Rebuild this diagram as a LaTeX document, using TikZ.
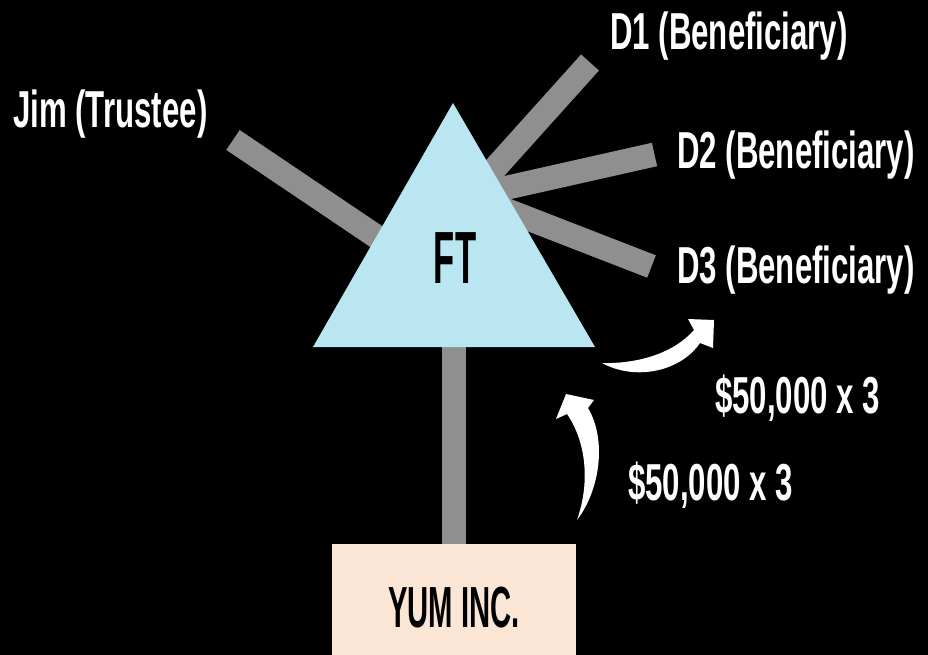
\documentclass[tikz,border=0pt]{standalone}
\usepackage{fontspec}
\newfontfamily\condfont[FakeStretch=0.6]{Liberation Sans}
\definecolor{barcol}{HTML}{8F8F8F}
\definecolor{trifill}{HTML}{B9E6F1}
\definecolor{boxfill}{HTML}{FBE5D5}
\begin{document}
\begin{tikzpicture}[x=1pt,y=-1pt,
  bar/.style={draw=barcol, line width=24pt},
  lab/.style={anchor=base west, inner sep=0pt, text=white, font=\condfont\bfseries\fontsize{52}{60}\selectfont},
  flow/.style={fill=white, draw=none}]
\fill[black] (0,0) rectangle (928,655);
\useasboundingbox (0,0) rectangle (928,655);
\clip (0,0) rectangle (928,655);

% hub and bar end points
\coordinate (hub) at (470,196);
\coordinate (jimEnd) at (233,140);
\coordinate (jimIn) at (420,266);
\coordinate (d1End) at (590,62.5);
\coordinate (d2End) at (654.5,154.5);
\coordinate (d3End) at (651.5,266.5);
\coordinate (ftIn) at (454,300);

% box
\node (yum) [fill=boxfill, draw=none, minimum width=244pt, minimum height=140pt, inner sep=0pt, anchor=north west] at (332,544) {};

% bars
\draw[bar] (jimEnd) -- (jimIn);
\draw[bar] (d1End) -- (hub);
\draw[bar] (d2End) -- (hub);
\draw[bar] (d3End) -- (hub);
\draw[bar] (ftIn) -- (yum.north -| ftIn);

% triangle
\coordinate (apex) at (453,103);
\coordinate (bl) at (313,347);
\coordinate (br) at (595,347);
\fill[trifill] (apex) -- (bl) -- (br) -- cycle;
\node (ft) [anchor=base, inner sep=0pt, font=\condfont\bfseries\fontsize{74}{80}\selectfont] at (455,283) {\scalebox{0.78}[1]{FT}};

\node (yumtxt) [anchor=base, inner sep=0pt, font=\condfont\bfseries\fontsize{58}{64}\selectfont] at (454,627) {\scalebox{0.84}[1]{YUM INC.}};

% labels
\node (jim) [lab] at (13,128) {Jim (Trustee)};
\node (d1) [lab] at (610,50) {D1 (Beneficiary)};
\node (d2) [lab] at (677,168) {D2 (Beneficiary)};
\node (d3) [lab] at (677,283) {D3 (Beneficiary)};
\node (amt1) [lab] at (715,413) {\$50,000 x 3};
\node (amt2) [lab] at (628,500) {\$50,000 x 3};

% curved arrows
\fill[flow] (602,363) .. controls (635,381) and (680,372) .. (700,343)
  -- (713,348) -- (714,320) -- (688,319) -- (694,330)
  .. controls (675,352) and (640,364) .. (602,363) -- cycle;
\fill[flow] (577,520) .. controls (600,490) and (607,440) .. (588,408)
  -- (594,400) -- (566,394) -- (556,419) -- (567,414)
  .. controls (585,440) and (591,480) .. (577,520) -- cycle;
\end{tikzpicture}
\end{document}
